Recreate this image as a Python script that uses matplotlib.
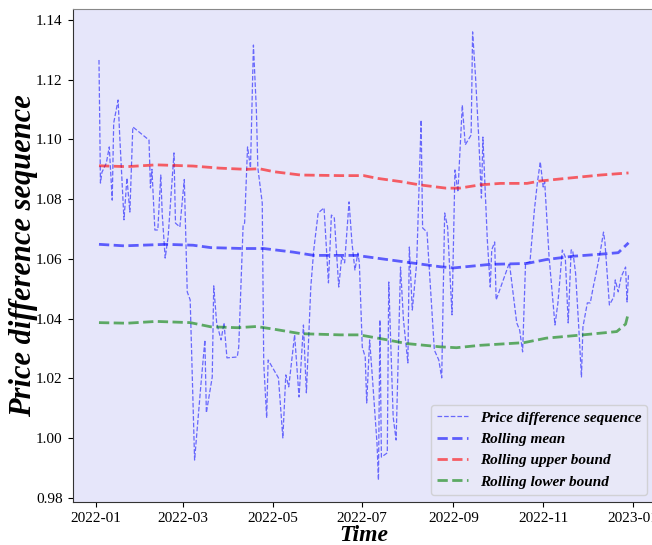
import matplotlib
matplotlib.use("Agg")
import matplotlib.pyplot as plt
import matplotlib.dates as mdates
import matplotlib.ticker as mticker
import numpy as np
import pandas as pd

plt.rcParams['font.family'] = ['Liberation Serif', 'DejaVu Serif']

# Day offsets from 2022-01-01 and values of the price difference sequence
price_days = [2, 3, 4, 7, 9, 11, 12, 15, 16, 19, 21, 23, 25, 36, 37, 38, 40, 42, 44, 45,
              47, 49, 53, 54, 57, 60, 62, 64, 67, 71, 74, 75, 79, 80, 82, 85, 87, 89, 96, 97,
              100, 101, 103, 105, 107, 109, 110, 113, 114, 116, 117, 124, 127, 129, 131, 135, 138, 141, 143, 146,
              148, 151, 155, 158, 160, 162, 165, 167, 169, 172, 174, 176, 178, 179, 181, 183, 184, 186, 188, 191,
              192, 193, 194, 198, 199, 202, 204, 207, 209, 212, 213, 215, 218, 221, 222, 225, 228, 230, 233, 235,
              237, 239, 242, 244, 246, 249, 251, 255, 256, 258, 260, 262, 263, 266, 268, 269, 271, 272, 281, 286,
              288, 290, 292, 295, 298, 300, 302, 304, 305, 308, 312, 314, 317, 319, 321, 323, 324, 326, 328, 330,
              331, 334, 336, 338, 340, 343, 345, 346, 349, 352, 353, 355, 357, 360, 361, 362]
price_values = [1.1266, 1.0854, 1.0890, 1.0921, 1.0975, 1.0797, 1.1055, 1.1132, 1.1022, 1.0731,
                1.0871, 1.0757, 1.1042, 1.0998, 1.0838, 1.0900, 1.0697, 1.0697, 1.0881, 1.0750,
                1.0603, 1.0674, 1.0955, 1.0720, 1.0707, 1.0866, 1.0490, 1.0463, 0.9927, 1.0162,
                1.0329, 1.0085, 1.0205, 1.0510, 1.0386, 1.0329, 1.0386, 1.0269, 1.0272, 1.0305,
                1.0714, 1.0720, 1.0975, 1.0905, 1.1316, 1.1099, 1.0905, 1.0787, 1.0252, 1.0068,
                1.0262, 1.0202, 1.0001, 1.0212, 1.0172, 1.0346, 1.0138, 1.0379, 1.0152, 1.0506,
                1.0630, 1.0754, 1.0771, 1.0520, 1.0747, 1.0737, 1.0506, 1.0607, 1.0587, 1.0791,
                1.0654, 1.0563, 1.0620, 1.0587, 1.0305, 1.0272, 1.0118, 1.0329, 1.0195, 0.9984,
                0.9860, 1.0396, 0.9937, 0.9951, 1.0523, 1.0071, 0.9994, 1.0573, 1.0396, 1.0252,
                1.0640, 1.0429, 1.0587, 1.1065, 1.0704, 1.0690, 1.0453, 1.0295, 1.0262, 1.0202,
                1.0754, 1.0707, 1.0413, 1.0898, 1.0824, 1.1115, 1.0982, 1.1015, 1.1360, 1.1209,
                1.1022, 1.0804, 1.1008, 1.0664, 1.0506, 1.0630, 1.0657, 1.0463, 1.0587, 1.0386,
                1.0362, 1.0289, 1.0587, 1.0590, 1.0764, 1.0854, 1.0925, 1.0841, 1.0858, 1.0607,
                1.0379, 1.0453, 1.0630, 1.0607, 1.0386, 1.0630, 1.0630, 1.0553, 1.0386, 1.0205,
                1.0372, 1.0453, 1.0453, 1.0506, 1.0553, 1.0630, 1.0690, 1.0654, 1.0446, 1.0473,
                1.0530, 1.0490, 1.0540, 1.0573, 1.0456, 1.0550]

mean_days = [2, 19, 48, 66, 78, 100, 114, 134, 148, 166, 177, 207, 234, 243, 268, 293, 306, 324, 343, 355, 362]
mean_values = [1.0649, 1.0644, 1.0649, 1.0646, 1.0638, 1.0635, 1.0635, 1.0623, 1.0612, 1.0612,
               1.0612, 1.0592, 1.0574, 1.0570, 1.0582, 1.0585, 1.0598, 1.0609, 1.0616, 1.0621, 1.0654]

upper_days = [2, 21, 41, 66, 84, 102, 111, 121, 139, 166, 182, 191, 207, 220, 238, 247, 261, 275, 293, 302, 320, 343, 362]
upper_values = [1.0912, 1.0909, 1.0915, 1.0911, 1.0904, 1.0900, 1.0902, 1.0892, 1.0881, 1.0879,
                1.0879, 1.0870, 1.0859, 1.0848, 1.0837, 1.0837, 1.0848, 1.0853, 1.0853, 1.0861,
                1.0870, 1.0881, 1.0888]

lower_days = [2, 21, 41, 64, 78, 96, 109, 121, 139, 166, 179, 195, 211, 234, 245, 261, 291, 306, 331, 354, 360, 362]
lower_values = [1.0387, 1.0385, 1.0391, 1.0387, 1.0373, 1.0370, 1.0374, 1.0365, 1.0350, 1.0346,
                1.0346, 1.0332, 1.0317, 1.0306, 1.0303, 1.0311, 1.0320, 1.0335, 1.0346, 1.0357,
                1.0382, 1.0421]

labels = ['Price difference sequence', 'Rolling mean', 'Rolling upper bound', 'Rolling lower bound']
start = pd.Timestamp('2022-01-01')


def to_dates(days):
    return start + pd.to_timedelta(days, unit='D')


fig = plt.figure(figsize=(6.52, 5.45), dpi=100)
ax = fig.add_axes([0.1112, 0.078, 0.8934, 0.9046])
ax.set_facecolor('#E6E6FA')

ax.plot(to_dates(price_days), price_values, color='blue', linestyle='--', linewidth=0.9, alpha=0.55, label=labels[0])
ax.plot(to_dates(mean_days), mean_values, color='blue', linestyle='--', linewidth=2, alpha=0.6, label=labels[1])
ax.plot(to_dates(upper_days), upper_values, color='red', linestyle='--', linewidth=2, alpha=0.6, label=labels[2])
ax.plot(to_dates(lower_days), lower_values, color='green', linestyle='--', linewidth=2, alpha=0.6, label=labels[3])

ax.xaxis.set_major_locator(mdates.MonthLocator(bymonth=[1, 3, 5, 7, 9, 11]))
ax.xaxis.set_major_formatter(mdates.DateFormatter('%Y-%m'))
ax.yaxis.set_major_locator(mticker.MultipleLocator(0.02))
ax.yaxis.set_major_formatter(mticker.FormatStrFormatter('%.2f'))
ax.tick_params(labelsize=11)
for s in ['left', 'bottom']:
    ax.spines[s].set_color('#333333')
for s in ['top', 'right']:
    ax.spines[s].set_color('#888888')

ax.set_xlabel('Time', fontsize=17, fontweight='bold', fontstyle='italic', labelpad=0)
ax.set_ylabel('Price difference sequence', fontsize=22, fontweight='bold', fontstyle='italic', labelpad=-1)

leg = ax.legend(loc='lower right', prop={'size': 11, 'weight': 'bold', 'style': 'italic'},
                facecolor='#E9E9F8', framealpha=0.8)

fig.savefig('out.png', dpi=100)
